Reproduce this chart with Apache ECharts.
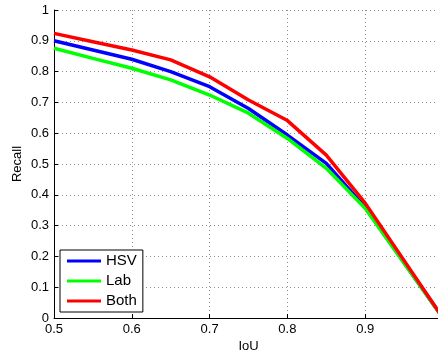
<!DOCTYPE html>
<html>
<head>
<meta charset="utf-8">
<script src="https://cdn.jsdelivr.net/npm/echarts@6/dist/echarts.min.js"></script>
<style>
  html, body { margin: 0; padding: 0; background: #fff; }
  #chart { width: 438px; height: 353px; }
</style>
</head>
<body>
<div id="chart"></div>
<script>
// IoU thresholds and recall per colour space
const iou = [0.5, 0.55, 0.6, 0.65, 0.7, 0.75, 0.8, 0.85, 0.9, 1.0];
const recallHSV = [0.900, 0.870, 0.840, 0.800, 0.751, 0.680, 0.594, 0.502, 0.359, 0.0];
const recallLab = [0.876, 0.843, 0.811, 0.773, 0.724, 0.665, 0.583, 0.486, 0.356, 0.0];
const recallBoth = [0.924, 0.897, 0.870, 0.838, 0.783, 0.708, 0.641, 0.529, 0.373, 0.0];

const seriesNames = ['HSV', 'Lab', 'Both'];
const seriesColors = ['#0000ff', '#00ff00', '#ff0000'];
const seriesData = [recallHSV, recallLab, recallBoth];

const font = 'Liberation Sans, Arial, Helvetica, sans-serif';
const chart = echarts.init(document.getElementById('chart'));

const gridLine = { show: true, lineStyle: { color: '#8c8c8c', type: [1, 3], width: 1 } };
const fmt = v => String(Math.round(v * 10) / 10);

chart.setOption({
  animation: false,
  textStyle: { fontFamily: font },
  grid: { left: 54, top: 10, bottom: 35, right: -5, containLabel: false, outerBoundsMode: 'none' },
  legend: {
    orient: 'vertical',
    left: 60,
    top: 250,
    padding: [3, 6, 3, 7],
    backgroundColor: '#fff',
    borderColor: '#000',
    borderWidth: 1,
    borderRadius: 0,
    icon: 'rect',
    itemWidth: 34,
    itemHeight: 3,
    itemGap: 4,
    textStyle: { fontSize: 15, color: '#000', fontFamily: font, lineHeight: 16 },
    data: seriesNames
  },
  xAxis: {
    type: 'value',
    min: 0.5, max: 1, interval: 0.1,
    name: 'IoU',
    nameLocation: 'middle',
    nameGap: 22,
    nameMoveOverlap: false,
    nameTextStyle: { fontSize: 13, color: '#000' },
    axisLine: { lineStyle: { color: '#000', width: 1 } },
    axisTick: { inside: true, length: 4, lineStyle: { color: '#000' } },
    axisLabel: { fontSize: 13, color: '#000', margin: 5, formatter: v => (v >= 0.99 ? '' : fmt(v)) },
    splitLine: gridLine
  },
  yAxis: {
    type: 'value',
    min: 0, max: 1, interval: 0.1,
    name: 'Recall',
    nameLocation: 'middle',
    nameRotate: 90,
    nameGap: 30,
    nameMoveOverlap: false,
    nameTextStyle: { fontSize: 13, color: '#000' },
    axisLine: { show: true, lineStyle: { color: '#000', width: 1 } },
    axisTick: { show: true, inside: true, length: 4, lineStyle: { color: '#000' } },
    axisLabel: { fontSize: 13, color: '#000', margin: 5, formatter: fmt },
    splitLine: gridLine
  },
  series: seriesNames.map((name, i) => ({
    name,
    type: 'line',
    showSymbol: false,
    symbol: 'none',
    color: seriesColors[i],
    lineStyle: { width: 3.5, color: seriesColors[i] },
    data: iou.map((x, j) => [x, seriesData[i][j]])
  }))
});
</script>
</body>
</html>
